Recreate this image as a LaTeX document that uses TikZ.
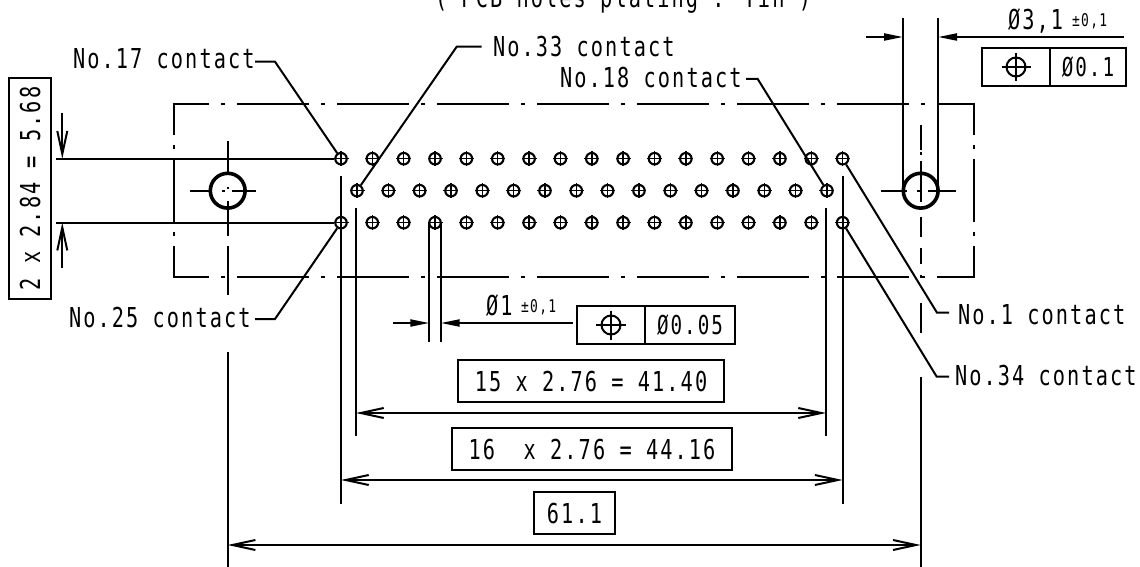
\documentclass[tikz,border=0pt]{standalone}
\usepackage{fontspec}
\usetikzlibrary{arrows.meta}
\newfontfamily\cad[FakeStretch=0.74,LetterSpace=7.6]{DejaVu Sans Mono}
\tikzset{
  lab/.style={font=\cad\fontsize{27.4}{30}\selectfont,inner sep=0pt,anchor=base west},
  labsmall/.style={font=\cad\fontsize{17.5}{20}\selectfont,inner sep=0pt,anchor=base west},
  framebox/.style={draw,inner sep=0pt,font=\cad\fontsize{27.4}{30}\selectfont,text height=20pt,text depth=0pt},
  tolbox/.style={draw,inner sep=0pt},
  contact/.style={draw,circle,minimum size=11.5pt,inner sep=0pt,line width=2.1pt},
  contactcross/.style={line width=1.4pt},
  hole/.style={draw,circle,minimum size=34.8pt,inner sep=0pt,line width=3.6pt},
  symb/.style={draw,circle,minimum size=19pt,inner sep=0pt,line width=2pt},
  wide/.style={{Straight Barb[length=23pt,width=10pt]}-{Straight Barb[length=23pt,width=10pt]}},
  widein/.style={-{Straight Barb[length=23pt,width=10pt]}},
  narrow/.style={-{Triangle[length=19pt,width=7pt]}},
  cdash/.style={dash pattern=on 72pt off 12pt on 4pt off 12pt,dash phase=36pt},
}
\begin{document}
\begin{tikzpicture}[x=1pt,y=-1pt,line width=2pt]
\useasboundingbox (0,0) rectangle (1140,567);
\clip (0,0) rectangle (1140,567);

% outline (chain-dotted)
\draw[cdash] (173,104) -- (975,104);
\draw[cdash] (173,277) -- (975,277);
\foreach \xx in {174,974}{
  \draw (\xx,104) -- (\xx,135);
  \draw (\xx,145.5) -- (\xx,149);
  \draw (\xx,159) -- (\xx,222);
  \draw (\xx,232) -- (\xx,236);
  \draw (\xx,246) -- (\xx,277.5);
}

% contacts
\foreach \i in {0,...,16}{
  \pgfmathsetmacro{\px}{341+31.35*\i}
  \node[contact] (a\i) at (\px,158.7) {};
  \node[contact] (c\i) at (\px,222.7) {};
  \draw[contactcross] (\px-7.5,158.7) -- (\px+7.5,158.7) (\px,151.2) -- (\px,166.2);
  \draw[contactcross] (\px-7.5,222.7) -- (\px+7.5,222.7) (\px,215.2) -- (\px,230.2);
}
\foreach \i in {0,...,15}{
  \pgfmathsetmacro{\px}{357+31.33*\i}
  \node[contact] (b\i) at (\px,190.7) {};
  \draw[contactcross] (\px-7.5,190.7) -- (\px+7.5,190.7) (\px,183.2) -- (\px,198.2);
}

% left hole
\node[hole] (holeL) at (227.7,190.7) {};
\draw (190,190.7) -- (212,190.7);
\draw (222,190.7) -- (225,190.7);
\draw (231.7,190.7) -- (255.7,190.7);
\draw (227.7,186.5) -- (227.7,189);
\draw (227.7,141) -- (227.7,172);
\draw (227.7,201) -- (227.7,236);
\draw (227.7,246) -- (227.7,295);

% right hole
\node[hole] (holeR) at (920.7,190.7) {};
\draw (880.5,190.7) -- (906.5,190.7);
\draw (916.5,190.7) -- (921.7,190.7);
\draw (928,190.7) -- (956,190.7);
\draw (920.7,125) -- (920.7,150);
\draw (920.7,152) -- (920.7,155);
\draw (920.7,161) -- (920.7,201.7);
\draw (920.7,216.7) -- (920.7,237);
\draw (920.7,248) -- (920.7,264);
\draw (920.7,274.5) -- (920.7,278);
\draw (920.7,303) -- (920.7,333);

% slot extension lines and dimension
\coordinate (rA) at (903,18);
\coordinate (rB) at (938,18);
\coordinate (rAe) at (903,190.7);
\coordinate (rBe) at (938,190.7);
\draw (rA) -- (rAe);
\draw (rB) -- (rBe);
\coordinate (d1a) at (866,37);
\coordinate (d1b) at (903,37);
\coordinate (d1c) at (1124,37);
\coordinate (d1d) at (938,37);
\draw[narrow] (d1a) -- (d1b);
\draw[narrow] (d1c) -- (d1d);
\node[lab] (dia3) at (1007,30) {Ø3,1};
\node[labsmall] (tol3) at (1071,27) {±0,1};
\node[tolbox,minimum width=68pt,minimum height=38pt] (t3a) at (1016,67) {};
\node[tolbox,minimum width=76pt,minimum height=38pt,font=\cad\fontsize{26}{30}\selectfont] (t3b) at (1088,67) {Ø0.1};
\node[symb] (s3) at (1016,67) {};
\draw (1001.5,67) -- (1030.5,67) (1016,53) -- (1016,81);

% small hole dimension
\coordinate (p1) at (429.3,223);
\coordinate (p2) at (440.7,223);
\coordinate (p1e) at (429.3,342);
\coordinate (p2e) at (440.7,342);
\draw (p1) -- (p1e);
\draw (p2) -- (p2e);
\coordinate (d2a) at (393,323);
\coordinate (d2b) at (429.3,323);
\coordinate (d2c) at (572.5,323);
\coordinate (d2d) at (440.7,323);
\draw[narrow] (d2a) -- (d2b);
\draw[narrow] (d2c) -- (d2d);
\node[lab] (dia1) at (485,315) {Ø1};
\node[labsmall] (tol1) at (520,312) {±0,1};
\node[tolbox,minimum width=68pt,minimum height=38pt] (t1a) at (611,325) {};
\node[tolbox,minimum width=90pt,minimum height=38pt,font=\cad\fontsize{26}{30}\selectfont] (t1b) at (690,325) {Ø0.05};
\node[symb] (s1) at (611,325) {};
\draw (596,325) -- (626,325) (611,310.5) -- (611,339.5);

% row extension lines and vertical dimension
\coordinate (e1) at (56,158.7);
\coordinate (e2) at (56,222.7);
\draw (e1) -- (a0);
\draw (e2) -- (c0);
\coordinate (v1) at (62.3,112.7);
\coordinate (v1e) at (62.3,158.7);
\coordinate (v2) at (62.3,268);
\coordinate (v2e) at (62.3,222.7);
\draw[widein] (v1) -- (v1e);
\draw[widein] (v2) -- (v2e);
\node[framebox,rotate=90,minimum width=221pt,minimum height=42pt] (dimV) at (30,188.5) {2 x 2.84 = 5.68};

% horizontal dimensions
\coordinate (xa1) at (356,208);
\coordinate (xa2) at (356,436);
\coordinate (xb1) at (826,208);
\coordinate (xb2) at (826,436);
\coordinate (xc1) at (341,176);
\coordinate (xc2) at (341,504);
\coordinate (xd1) at (842.6,176);
\coordinate (xd2) at (842.6,504);
\coordinate (xe1) at (227.7,352);
\coordinate (xe2) at (227.7,567);
\coordinate (xf1) at (920.7,377);
\coordinate (xf2) at (920.7,567);
\draw (xa1) -- (xa2);
\draw (xb1) -- (xb2);
\draw (xc1) -- (xc2);
\draw (xd1) -- (xd2);
\draw (xe1) -- (xe2);
\draw (xf1) -- (xf2);
\coordinate (h1a) at (356,413);
\coordinate (h1b) at (826,413);
\coordinate (h2a) at (341,480);
\coordinate (h2b) at (842.6,480);
\coordinate (h3a) at (227.7,545);
\coordinate (h3b) at (920.7,545);
\draw[wide] (h1a) -- (h1b);
\draw[wide] (h2a) -- (h2b);
\draw[wide] (h3a) -- (h3b);
\node[framebox,minimum width=266pt,minimum height=42pt] (dim15) at (591,381) {15 x 2.76 = 41.40};
\node[framebox,minimum width=280pt,minimum height=42pt] (dim16) at (592,449) {16\ \ x 2.76 = 44.16};
\node[framebox,minimum width=81pt,minimum height=42pt] (dim61) at (574.5,513) {61.1};

% contact labels and leaders
\node[lab] (n17) at (72,69) {No.17 contact};
\coordinate (n17s) at (255,61.7);
\coordinate (n17k) at (275,61.7);
\draw (n17s) -- (n17k) -- (a0);
\node[lab] (n25) at (68,327) {No.25 contact};
\coordinate (n25s) at (255,319);
\coordinate (n25k) at (275,319);
\draw (n25s) -- (n25k) -- (c0);
\node[lab] (n33) at (492,57) {No.33 contact};
\coordinate (n33s) at (481.7,46.7);
\coordinate (n33k) at (456.7,46.7);
\draw (n33s) -- (n33k) -- (b0);
\node[lab] (n18) at (559,88) {No.18 contact};
\coordinate (n18s) at (746,79);
\coordinate (n18k) at (757.7,79);
\draw (n18s) -- (n18k) -- (b15);
\node[lab] (n1) at (957,324) {No.1 contact};
\coordinate (n1s) at (949,312.7);
\coordinate (n1k) at (937,312.7);
\draw (n1s) -- (n1k) -- (a16);
\node[lab] (n34) at (954,385) {No.34 contact};
\coordinate (n34s) at (949,376.7);
\coordinate (n34k) at (936.7,376.7);
\draw (n34s) -- (n34k) -- (c16);

% clipped heading
\node[lab] (head) at (434,8) {( PCB holes plating : Tin )};
\end{tikzpicture}
\end{document}
